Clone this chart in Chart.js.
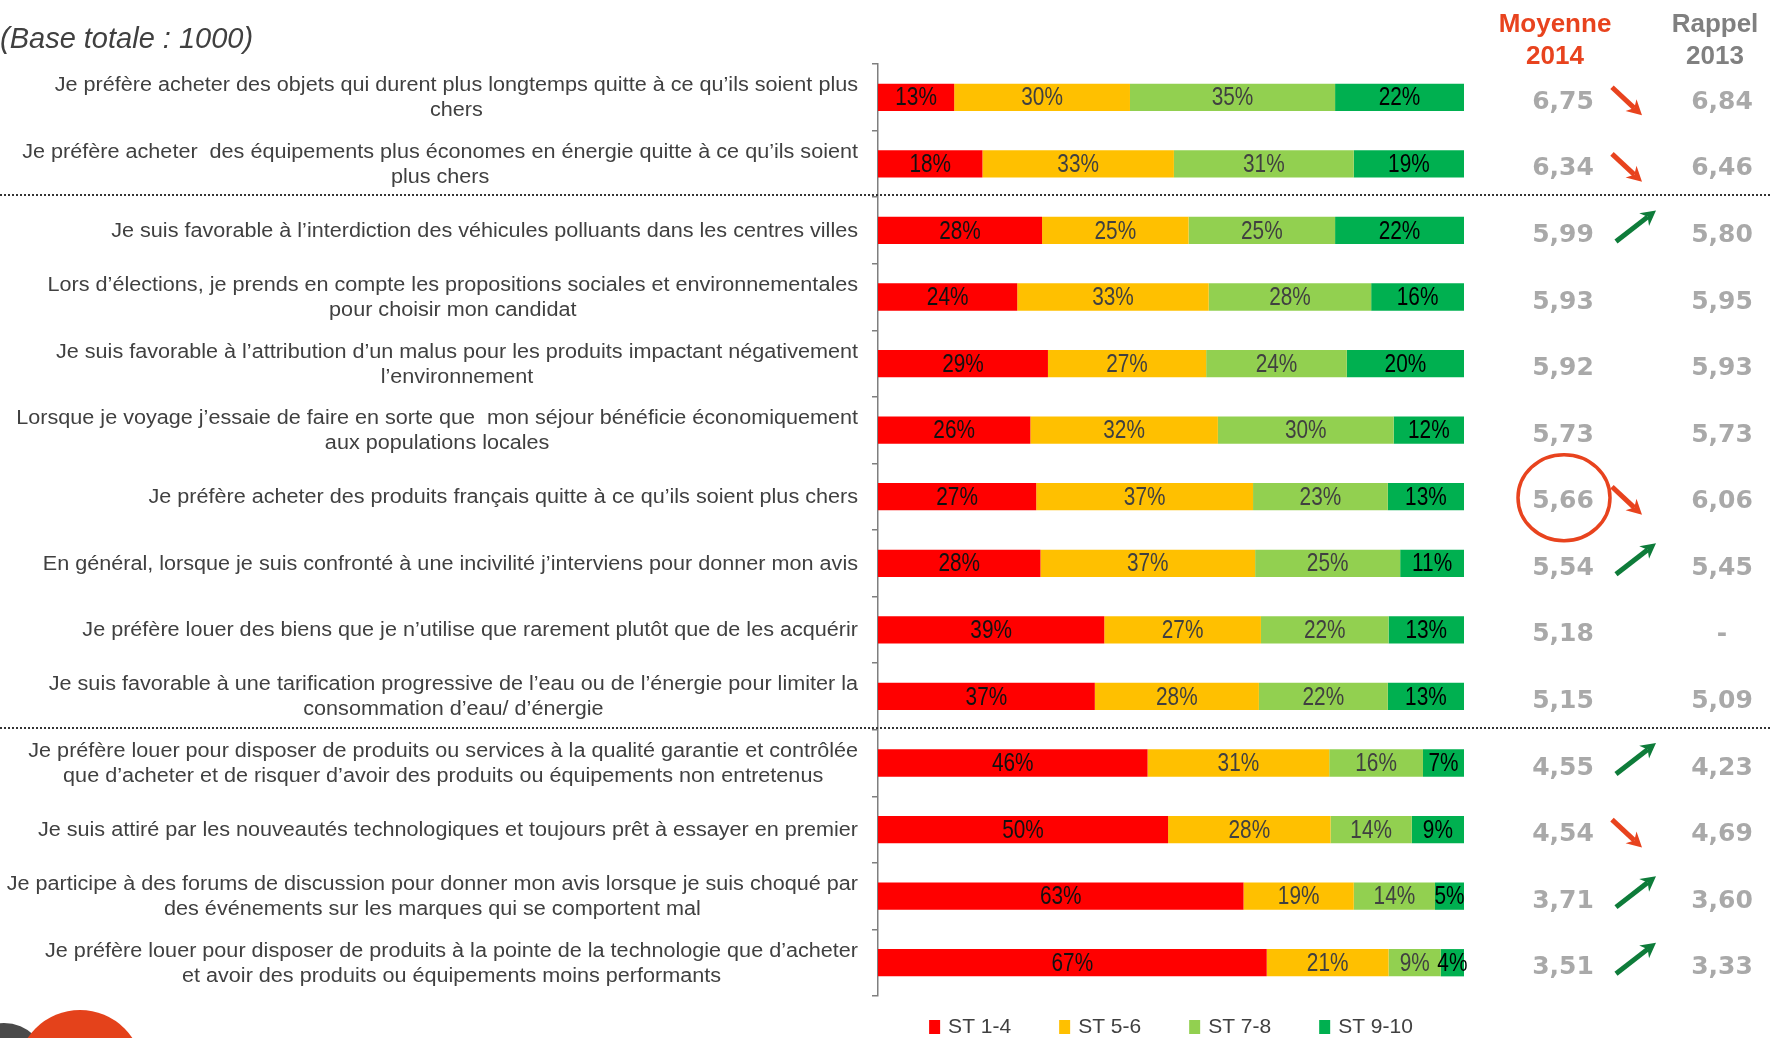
<!DOCTYPE html>
<html>
<head>
<meta charset="utf-8">
<script src="https://cdn.jsdelivr.net/npm/chart.js@4.4.1/dist/chart.umd.min.js"></script>
<style>
  html, body { margin: 0; padding: 0; background: #fff; }
  canvas { display: block; }
</style>
</head>
<body>
<canvas id="attitudes" width="1770" height="1038"></canvas>
<script>
const statements = [
  ["Je préfère acheter des objets qui durent plus longtemps quitte à ce qu’ils soient plus", "chers"],
  ["Je préfère acheter  des équipements plus économes en énergie quitte à ce qu’ils soient", "plus chers"],
  ["Je suis favorable à l’interdiction des véhicules polluants dans les centres villes"],
  ["Lors d’élections, je prends en compte les propositions sociales et environnementales", "pour choisir mon candidat"],
  ["Je suis favorable à l’attribution d’un malus pour les produits impactant négativement", "l’environnement"],
  ["Lorsque je voyage j’essaie de faire en sorte que  mon séjour bénéficie économiquement", "aux populations locales"],
  ["Je préfère acheter des produits français quitte à ce qu’ils soient plus chers"],
  ["En général, lorsque je suis confronté à une incivilité j’interviens pour donner mon avis"],
  ["Je préfère louer des biens que je n’utilise que rarement plutôt que de les acquérir"],
  ["Je suis favorable à une tarification progressive de l’eau ou de l’énergie pour limiter la", "consommation d’eau/ d’énergie"],
  ["Je préfère louer pour disposer de produits ou services à la qualité garantie et contrôlée", "que d’acheter et de risquer d’avoir des produits ou équipements non entretenus"],
  ["Je suis attiré par les nouveautés technologiques et toujours prêt à essayer en premier"],
  ["Je participe à des forums de discussion pour donner mon avis lorsque je suis choqué par", "des événements sur les marques qui se comportent mal"],
  ["Je préfère louer pour disposer de produits à la pointe de la technologie que d’acheter", "et avoir des produits ou équipements moins performants"]
];

const st14  = [13, 18, 28, 24, 29, 26, 27, 28, 39, 37, 46, 50, 63, 67];
const st56  = [30, 33, 25, 33, 27, 32, 37, 37, 27, 28, 31, 28, 19, 21];
const st78  = [35, 31, 25, 28, 24, 30, 23, 25, 22, 22, 16, 14, 14, 9];
const st910 = [22, 19, 22, 16, 20, 12, 13, 11, 13, 13, 7, 9, 5, 4];

const moyenne2014 = [6.75, 6.34, 5.99, 5.93, 5.92, 5.73, 5.66, 5.54, 5.18, 5.15, 4.55, 4.54, 3.71, 3.51];
const rappel2013  = [6.84, 6.46, 5.80, 5.95, 5.93, 5.73, 6.06, 5.45, null, 5.09, 4.23, 4.69, 3.60, 3.33];
const evolution   = ['down', 'down', 'up', '', '', '', 'down', 'up', '', '', 'up', 'down', 'up', 'up'];
const groupBreaks = [2, 10];
const circledRow = 6;

const seriesNames  = ['ST 1-4', 'ST 5-6', 'ST 7-8', 'ST 9-10'];
const seriesColors = ['#FF0000', '#FFC000', '#92D050', '#00B050'];
const valueColors  = ['#111111', '#404040', '#404040', '#000000'];

const SANS = "'Liberation Sans', Arial, sans-serif";
const DEJA = "'DejaVu Sans', sans-serif";
const ORANGE = '#E8431E';
const GREEN = '#0E7C3A';

// 100% stacked: every row is scaled to its own total
const series = [st14, st56, st78, st910];
const rowTotals = st14.map((_, i) => series.reduce((s, arr) => s + arr[i], 0));

const fmt = v => v == null ? '-' : v.toFixed(2).replace('.', ',');

function drawArrow(ctx, x1, y1, x2, y2, color) {
  const a = Math.atan2(y2 - y1, x2 - x1);
  const head = 15, half = 8;
  ctx.save();
  ctx.strokeStyle = color;
  ctx.fillStyle = color;
  ctx.lineWidth = 5;
  ctx.beginPath();
  ctx.moveTo(x1, y1);
  ctx.lineTo(x2 - Math.cos(a) * head * 0.7, y2 - Math.sin(a) * head * 0.7);
  ctx.stroke();
  ctx.beginPath();
  ctx.moveTo(x2, y2);
  ctx.lineTo(x2 - head * Math.cos(a) + half * Math.sin(a), y2 - head * Math.sin(a) - half * Math.cos(a));
  ctx.lineTo(x2 - head * 0.7 * Math.cos(a), y2 - head * 0.7 * Math.sin(a));
  ctx.lineTo(x2 - head * Math.cos(a) - half * Math.sin(a), y2 - head * Math.sin(a) + half * Math.cos(a));
  ctx.closePath();
  ctx.fill();
  ctx.restore();
}

const overlay = {
  id: 'overlay',
  afterDatasetsDraw(chart) {
    const ctx = chart.ctx;
    ctx.save();
    ctx.textAlign = 'center';
    ctx.textBaseline = 'middle';
    ctx.font = '26px ' + SANS;
    chart.data.datasets.forEach((ds, k) => {
      ctx.fillStyle = valueColors[k];
      chart.getDatasetMeta(k).data.forEach((bar, i) => {
        const cx = (bar.x + bar.base) / 2;
        ctx.save();
        ctx.translate(cx, bar.y + 1);
        ctx.scale(0.8, 1);
        ctx.fillText(ds.raw[i] + '%', 0, 0);
        ctx.restore();
      });
    });
    ctx.restore();
  },
  afterDraw(chart) {
    const ctx = chart.ctx;
    const area = chart.chartArea;
    const yScale = chart.scales.y;
    const step = yScale.getPixelForValue(1) - yScale.getPixelForValue(0);
    ctx.save();

    // title
    ctx.fillStyle = '#404040';
    ctx.font = 'italic 29px ' + SANS;
    ctx.textAlign = 'left';
    ctx.textBaseline = 'middle';
    ctx.fillText('(Base totale : 1000)', 0, 40);

    // statements, right-aligned block, lines centred
    ctx.font = '20px ' + SANS;
    ctx.textAlign = 'center';
    const stretch = 1.08;
    const textRight = area.left - 20;
    statements.forEach((lines, i) => {
      const y = yScale.getPixelForValue(i);
      const w = Math.max(...lines.map(l => ctx.measureText(l).width)) * stretch;
      const cx = textRight - w / 2;
      lines.forEach((l, j) => {
        ctx.save();
        ctx.translate(cx, y + (j - (lines.length - 1) / 2) * 25 + 1);
        ctx.scale(stretch, 1);
        ctx.fillText(l, 0, 0);
        ctx.restore();
      });
    });

    // group separators
    ctx.strokeStyle = '#333';
    ctx.lineWidth = 2;
    ctx.setLineDash([2, 2]);
    groupBreaks.forEach(r => {
      const y = Math.round(yScale.getPixelForValue(r) - step / 2) - 2;
      ctx.beginPath();
      ctx.moveTo(0, y);
      ctx.lineTo(chart.width, y);
      ctx.stroke();
    });
    ctx.setLineDash([]);

    // column headers
    const col1 = area.right + 99;
    const col2 = area.right + 258;
    const arrowX = area.right + 172;
    ctx.font = 'bold 26px ' + SANS;
    ctx.fillStyle = ORANGE;
    ctx.fillText('Moyenne', col1 - 8, 25);
    ctx.fillText('2014', col1 - 8, 57);
    ctx.fillStyle = '#808080';
    ctx.fillText('Rappel', col2 - 7, 25);
    ctx.fillText('2013', col2 - 7, 57);

    // averages
    ctx.font = 'bold 25px ' + DEJA;
    ctx.fillStyle = '#A9A9A9';
    moyenne2014.forEach((v, i) => {
      const y = yScale.getPixelForValue(i) + 5;
      ctx.fillText(fmt(v), col1, y);
      ctx.fillText(fmt(rappel2013[i]), col2, y);
      if (evolution[i] === 'down') {
        drawArrow(ctx, arrowX - 24, y - 15, arrowX + 6, y + 13, ORANGE);
      } else if (evolution[i] === 'up') {
        drawArrow(ctx, arrowX - 20, y + 6, arrowX + 20, y - 25, GREEN);
      }
    });

    // highlight circle
    const cy = yScale.getPixelForValue(circledRow) + 1;
    ctx.strokeStyle = ORANGE;
    ctx.lineWidth = 3.5;
    ctx.beginPath();
    ctx.ellipse(col1 + 1, cy, 46, 43, 0, 0, Math.PI * 2);
    ctx.stroke();

    // legend
    ctx.font = '21px ' + SANS;
    ctx.textAlign = 'left';
    const ly = 1027;
    const widths = seriesNames.map(n => 11 + 8 + ctx.measureText(n).width);
    const gap = 48;
    const total = widths.reduce((a, b) => a + b, 0) + gap * (widths.length - 1);
    let lx = (area.left + area.right) / 2 - total / 2;
    seriesNames.forEach((n, k) => {
      ctx.fillStyle = seriesColors[k];
      ctx.fillRect(lx, ly - 7, 11, 14);
      ctx.fillStyle = '#404040';
      ctx.fillText(n, lx + 19, ly);
      lx += widths[k] + gap;
    });

    // logo fragment bottom-left
    ctx.fillStyle = '#4a4a4a';
    ctx.beginPath();
    ctx.arc(4, 1066, 43, 0, Math.PI * 2);
    ctx.fill();
    ctx.fillStyle = '#E4421B';
    ctx.beginPath();
    ctx.arc(80, 1073, 63, 0, Math.PI * 2);
    ctx.fill();

    ctx.restore();
  }
};

const datasets = series.map((arr, k) => ({
  label: seriesNames[k],
  data: arr.map((v, i) => v / rowTotals[i] * 100),
  raw: arr,
  backgroundColor: seriesColors[k],
  borderWidth: 0,
  barPercentage: 0.41,
  categoryPercentage: 1
}));

new Chart(document.getElementById('attitudes'), {
  type: 'bar',
  data: {
    labels: statements.map(l => l.join(' ')),
    datasets: datasets
  },
  options: {
    indexAxis: 'y',
    responsive: false,
    animation: false,
    devicePixelRatio: 1,
    layout: { padding: { left: 872, right: 306, top: 64, bottom: 42 } },
    plugins: {
      legend: { display: false },
      tooltip: { enabled: false }
    },
    scales: {
      x: { stacked: true, min: 0, max: 100, display: false },
      y: {
        stacked: true,
        grid: { offset: true, drawOnChartArea: false, drawTicks: true, tickLength: 6, color: '#7f7f7f', lineWidth: 1.5 },
        border: { color: '#7f7f7f', width: 1.5 },
        ticks: { display: false }
      }
    }
  },
  plugins: [overlay]
});
</script>
</body>
</html>
